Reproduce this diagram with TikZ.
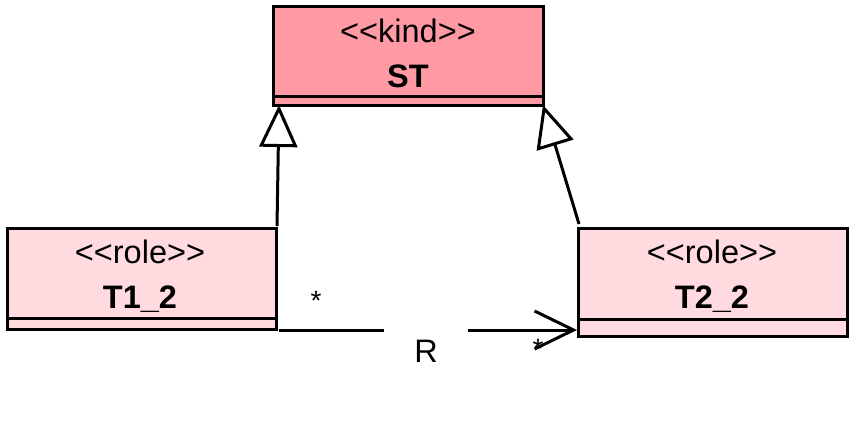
\documentclass[tikz,border=0pt]{standalone}
\usepackage{fontspec}
\setmainfont{Liberation Sans}
\usetikzlibrary{arrows.meta}
\definecolor{kindfill}{RGB}{255,153,164}
\definecolor{rolefill}{RGB}{255,218,222}
\newcommand{\lt}{<\kern0pt<}
\newcommand{\gt}{>\kern0pt>}
\begin{document}
\begin{tikzpicture}[x=1pt,y=-1pt,
  umlbox/.style={draw=black, line width=3pt, inner sep=0pt, outer sep=0pt},
  umltext/.style={font=\fontsize{32.5}{36}\selectfont, anchor=base, inner sep=0pt},
  umlbold/.style={font=\fontsize{32.5}{36}\selectfont\bfseries, anchor=base, inner sep=0pt},
  genline/.style={line width=3pt, -{Triangle[open, length=42pt, width=38pt, fill=white]}},
  assocline/.style={line width=3pt, -{Straight Barb[length=39pt, width=38pt]}},
  mult/.style={font=\fontsize{28}{32}\selectfont, inner sep=0pt}
]
\useasboundingbox (0,0) rectangle (861,426);
% boxes
\node[umlbox, fill=kindfill, minimum width=270pt, minimum height=99pt] (ST) at (408,56) {};
\node[umlbox, fill=rolefill, minimum width=269pt, minimum height=101pt] (T1) at (142,279) {};
\node[umlbox, fill=rolefill, minimum width=269pt, minimum height=108pt] (T2) at (713,282) {};
% dividers
\draw[line width=3pt] ([yshift=9pt]ST.south west) -- ([yshift=9pt]ST.south east);
\draw[line width=3pt] ([yshift=11pt]T1.south west) -- ([yshift=11pt]T1.south east);
\draw[line width=3pt] ([yshift=17pt]T2.south west) -- ([yshift=17pt]T2.south east);
% texts
\node[umltext] (STst) at (408,42) {\lt kind\gt};
\node[umlbold] (STn) at (408,87) {ST};
\node[umltext] (T1st) at (140,263) {\lt role\gt};
\node[umlbold] (T1n) at (140,308) {T1\_2};
\node[umltext] (T2st) at (712,263) {\lt role\gt};
\node[umlbold] (T2n) at (712,308) {T2\_2};
% generalizations
\coordinate (g1s) at (277,226);
\coordinate (g1e) at (279,105);
\coordinate (g2s) at (579,224);
\coordinate (g2e) at (543,105);
\draw[genline] (g1s) -- (g1e);
\draw[genline] (g2s) -- (g2e);
% association
\coordinate (a1) at (279,330);
\coordinate (a2) at (577,330);
\draw[assocline] (a1) -- (a2);
\node[fill=white, inner sep=0pt, minimum width=84pt, minimum height=14pt] (Rbg) at (426,330) {};
\node[umltext] (R) at (426,362) {R};
\node[mult] (m1) at (316,301) {*};
\node[mult] (m2) at (538,349) {*};
\end{tikzpicture}
\end{document}
